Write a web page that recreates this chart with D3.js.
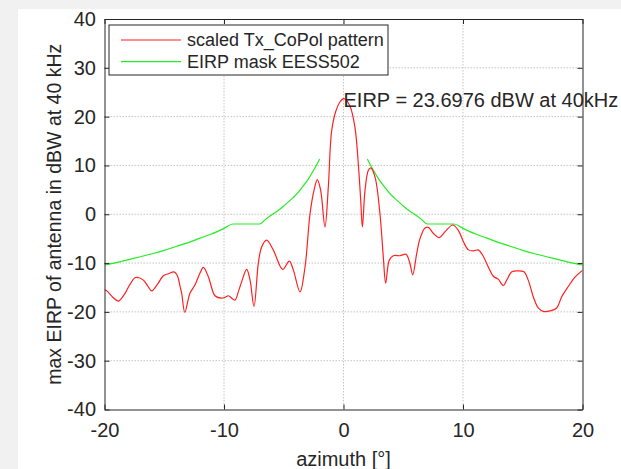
<!DOCTYPE html>
<html>
<head>
<meta charset="utf-8">
<script src="https://cdn.jsdelivr.net/npm/d3@7"></script>
<style>
  html, body { margin: 0; padding: 0; background: #ffffff; }
  svg { display: block; }
  text { font-family: "Liberation Sans", Arial, sans-serif; fill: #262626; }
</style>
</head>
<body>
<svg id="chart" width="621" height="469"></svg>
<script>
// ---- data ----
const patternAz = [-20.0,-19.8,-19.3,-18.84,-18.28,-17.9,-17.45,-17.1,-16.75,-16.4,-16.05,-15.5,-15.08,-14.66,-14.18,-13.9,-13.7,-13.54,-13.28,-12.85,-12.43,-12.0,-11.73,-11.31,-10.75,-10.19,-9.9,-9.64,-9.3,-9.08,-8.75,-8.52,-8.10,-7.82,-7.49,-7.13,-6.85,-6.43,-5.87,-5.09,-4.54,-4.2,-3.64,-3.22,-2.80,-2.47,-2.19,-1.91,-1.55,-1.27,-0.99,-0.63,-0.3,0,0.13,0.54,0.96,1.24,1.44,1.58,1.80,2.08,2.28,2.64,3.05,3.33,3.53,3.83,4.17,4.73,5.23,5.56,5.79,6.13,6.4,6.82,7.10,7.51,8.02,8.49,9.14,9.61,10.03,10.45,10.86,11.28,11.65,12.12,12.54,12.95,13.37,13.66,14.08,14.63,15.10,15.46,15.88,16.30,16.72,17.28,17.84,18.26,18.81,19.37,20.0];
const patternEirp = [-15.4,-15.7,-17.0,-17.8,-16.2,-14.5,-13.0,-13.0,-13.5,-14.6,-15.7,-14.1,-12.6,-12.2,-11.8,-12.6,-14.5,-16.2,-20.1,-16.2,-14.5,-12.0,-10.9,-12.8,-16.7,-17.2,-17.0,-16.7,-17.3,-17.6,-15.5,-13.8,-11.3,-13.5,-18.9,-10.1,-6.7,-5.3,-7.35,-11.3,-9.6,-11.4,-15.9,-10.8,0.1,4.9,7.1,4.9,-2.6,5.6,17.1,21.2,23.0,23.6976,23.6,22.2,17.8,10.3,2.9,-2.6,4.9,9.0,9.5,7.6,0.1,-8.7,-14.1,-9.4,-8.5,-8.5,-8.2,-10.1,-12.4,-8.0,-5.0,-2.8,-2.7,-3.9,-4.8,-3.6,-2.2,-3.3,-5.6,-7.3,-7.5,-7.3,-8.4,-10.8,-12.7,-13.3,-14.6,-13.5,-11.8,-11.6,-11.8,-13.5,-16.9,-19.2,-19.9,-19.8,-19.2,-16.9,-14.8,-12.9,-11.5];

// EIRP mask (null marks the gap around boresight)
const maskAz   = [-20,-19,-18,-17,-16,-15,-14,-13,-12,-11,-10,-9.25,-7,-6.5,-6,-5.5,-5,-4.5,-4,-3.5,-3,-2.5,-2, null, 2,2.5,3,3.5,4,4.5,5,5.5,6,6.5,7,9.25,10,11,12,13,14,15,16,17,18,19,20];
const maskEirp = [-10.4,-9.9,-9.3,-8.7,-8.1,-7.4,-6.6,-5.8,-4.9,-4.0,-2.9,-2.0,-2.0,-1.0,-0.1,0.7,1.7,2.8,3.9,5.4,7.0,9.0,11.3, null, 11.3,9.0,7.0,5.4,3.9,2.8,1.7,0.7,-0.1,-1.0,-2.0,-2.0,-2.9,-4.0,-4.9,-5.8,-6.6,-7.4,-8.1,-8.7,-9.3,-9.9,-10.4];

const xTicks = [-20,-10,0,10,20];
const yTicks = [-40,-30,-20,-10,0,10,20,30,40];
const seriesNames = ["scaled Tx_CoPol pattern", "EIRP mask EESS502"];
const seriesColors = ["#ff2020", "#22ee22"];
const annotation = "EIRP = 23.6976 dBW at 40kHz";
const xLabel = "azimuth [°]";
const yLabel = "max EIRP of antenna in dBW at 40 kHz";

// ---- layout ----
const W = 621, H = 469;
const L = 104.5, R = 582.5, T = 19, B = 409.5;
const FS = 20, LFS = 18;
const svg = d3.select("#chart");

// window-shadow-like background edges
svg.append("rect").attr("x",0).attr("y",0).attr("width",W).attr("height",H).attr("fill","#f1f1f1");
svg.append("rect").attr("x",18).attr("y",9).attr("width",W-18).attr("height",H-9).attr("fill","#ffffff");

const x = d3.scaleLinear().domain([-20,20]).range([L,R]);
const y = d3.scaleLinear().domain([-40,40]).range([B,T]);

// grid
const grid = svg.append("g");
grid.selectAll("line.gx").data(xTicks.slice(1,-1)).join("line")
  .attr("x1",d=>x(d)).attr("x2",d=>x(d)).attr("y1",T).attr("y2",B)
  .attr("stroke","#c4c4c4").attr("stroke-width",1).attr("stroke-dasharray","1.5,1.5");
grid.selectAll("line.gy").data(yTicks.slice(1,-1)).join("line")
  .attr("y1",d=>y(d)).attr("y2",d=>y(d)).attr("x1",L).attr("x2",R)
  .attr("stroke","#c4c4c4").attr("stroke-width",1).attr("stroke-dasharray","1.5,1.5");

// clip
svg.append("clipPath").attr("id","clip").append("rect")
  .attr("x",L).attr("y",T).attr("width",R-L).attr("height",B-T);

// mask
const maskData = maskAz.map((a,i)=>({a, v: maskEirp[i]}));
svg.append("path").datum(maskData)
  .attr("clip-path","url(#clip)")
  .attr("fill","none").attr("stroke",seriesColors[1]).attr("stroke-width",1.2)
  .attr("d", d3.line().defined(d=>d.a!==null && d.v!==null)
    .x(d=>x(d.a)).y(d=>y(d.v)).curve(d3.curveMonotoneX));

// pattern
const patData = patternAz.map((a,i)=>({a, v: patternEirp[i]}));
svg.append("path").datum(patData)
  .attr("clip-path","url(#clip)")
  .attr("fill","none").attr("stroke",seriesColors[0]).attr("stroke-width",1.2)
  .attr("d", d3.line().x(d=>x(d.a)).y(d=>y(d.v)).curve(d3.curveCatmullRom.alpha(0.5)));

// axes (MATLAB style: box with inward ticks on all sides)
const fmt = d => String(d);
const axB = svg.append("g").attr("transform",`translate(0,${B})`)
  .call(d3.axisBottom(x).tickValues(xTicks).tickSizeInner(-5).tickSizeOuter(0).tickPadding(13.5).tickFormat(fmt));
const axT = svg.append("g").attr("transform",`translate(0,${T})`)
  .call(d3.axisTop(x).tickValues(xTicks).tickSizeInner(-5).tickSizeOuter(0).tickFormat(""));
const axL = svg.append("g").attr("transform",`translate(${L},0)`)
  .call(d3.axisLeft(y).tickValues(yTicks).tickSizeInner(-5).tickSizeOuter(0).tickPadding(8.5).tickFormat(fmt));
const axR = svg.append("g").attr("transform",`translate(${R},0)`)
  .call(d3.axisRight(y).tickValues(yTicks).tickSizeInner(-5).tickSizeOuter(0).tickFormat(""));
[axB,axT,axL,axR].forEach(g=>{
  g.select(".domain").attr("stroke","#262626").attr("stroke-width",1);
  g.selectAll(".tick line").attr("stroke","#262626");
  g.selectAll("text").attr("font-size",FS).attr("font-family","Liberation Sans, Arial, sans-serif").attr("fill","#262626");
});

// axis labels
svg.append("text").attr("x",(L+R)/2).attr("y",466).attr("text-anchor","middle")
  .attr("font-size",FS).text(xLabel);
svg.append("text").attr("transform",`translate(61,${(T+B)/2}) rotate(-90)`)
  .attr("text-anchor","middle").attr("font-size",19.5).text(yLabel);

// annotation
svg.append("text").attr("x",x(0)).attr("y",106.5).attr("font-size",FS).text(annotation);

// legend
const lg = svg.append("g");
lg.append("rect").attr("x",109).attr("y",25).attr("width",279).attr("height",50)
  .attr("fill","#ffffff").attr("stroke","#262626").attr("stroke-width",1);
seriesNames.forEach((n,i)=>{
  const yy = 40 + i*21.7;
  lg.append("line").attr("x1",121).attr("x2",181).attr("y1",yy).attr("y2",yy)
    .attr("stroke",seriesColors[i]).attr("stroke-width",1.2);
  lg.append("text").attr("x",187).attr("y",yy+6.3).attr("font-size",LFS).text(n);
});
</script>
</body>
</html>
